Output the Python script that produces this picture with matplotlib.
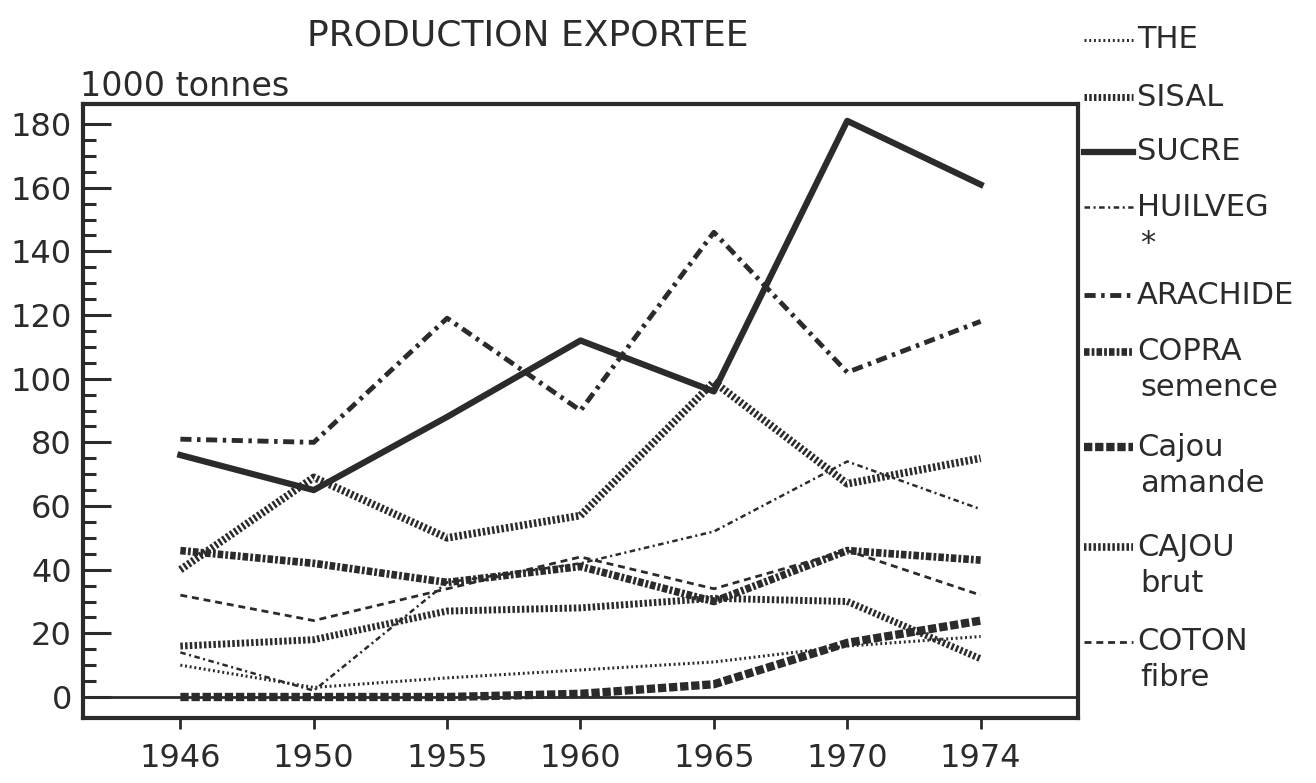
import matplotlib
matplotlib.use('Agg')
import matplotlib.pyplot as plt
from matplotlib.ticker import MultipleLocator, FixedLocator

plt.rcParams['font.family'] = ['DejaVu Sans']
plt.rcParams['lines.scale_dashes'] = False

INK = '#2b2b2b'

years = ['1946', '1950', '1955', '1960', '1965', '1970', '1974']

# exported production, 1000 tonnes
the = [10, 3, 6, 8.5, 11, 16, 19]
sisal = [16, 18, 27, 28, 31, 30, 12]
sucre = [76, 65, 88, 112, 96, 181, 161]
huilveg = [14, 2, 36, 42, 52, 74, 59]
arachide = [81, 80, 119, 90, 146, 102, 118]
copra = [46, 42, 36, 41, 30, 46, 43]
cajou_amande = [0, 0, 0, 1, 4, 17, 24]
cajou_brut = [40, 69, 50, 57, 99, 67, 75]
coton = [32, 24, 34, 44, 34, 46, 32]

labels = [['THE'], ['SISAL'], ['SUCRE'], ['HUILVEG', '*'], ['ARACHIDE'],
          ['COPRA', 'semence'], ['Cajou', 'amande'], ['CAJOU', 'brut'],
          ['COTON', 'fibre']]
series = [the, sisal, sucre, huilveg, arachide, copra, cajou_amande,
          cajou_brut, coton]
# (linewidth, dash pattern) -- None means solid
styles = [(2.2, (1.4, 2.0)),
          (5.0, (1.8, 1.6)),
          (4.5, None),
          (1.8, (4, 2.5, 1.5, 2.5)),
          (3.5, (8, 4, 2.5, 4)),
          (5.5, (4, 1.5, 2, 1.5)),
          (6.0, (6, 2)),
          (5.5, (1.8, 1.6)),
          (2.0, (5, 3.5))]

W, H = 1316, 783
fig = plt.figure(figsize=(W / 100, H / 100), dpi=100)
ax = fig.add_axes([83 / W, 1 - 718 / H, (1078 - 83) / W, (718 - 104) / H])

x = list(range(len(years)))
for vals, (lw, dash) in zip(series, styles):
    line, = ax.plot(x, vals, color=INK, lw=lw)
    if dash is not None:
        line.set_dashes(dash)

ax.axhline(0, color=INK, lw=2)

ax.set_xlim(-0.73, 6.73)
ax.set_ylim(-6.6, 186.3)
ax.set_xticks(x)
ax.set_xticklabels(years)
ax.yaxis.set_major_locator(MultipleLocator(20))
ax.yaxis.set_minor_locator(FixedLocator(range(0, 181, 5)))
ax.tick_params(axis='x', direction='out', length=8, width=2, pad=10,
               labelsize=23, colors=INK)
ax.tick_params(axis='y', which='major', direction='in', length=20, width=2.2,
               labelsize=23, pad=8, colors=INK)
ax.tick_params(axis='y', which='minor', direction='in', length=9, width=2.2,
               colors=INK)
for sp in ax.spines.values():
    sp.set_linewidth(3)
    sp.set_color(INK)

fig.text(528 / W, 1 - 35 / H, 'PRODUCTION EXPORTEE', ha='center', va='center',
         fontsize=26, color=INK)
fig.text(80 / W, 1 - 86 / H, '1000 tonnes', ha='left', va='center',
         fontsize=24, color=INK)

# legend on the right, drawn by hand so the sample sits on the first text line
rows_y = [40, 97, 152, 207, 295, 352, 447, 547, 642]
for lab, (lw, dash), yp in zip(labels, styles, rows_y):
    yf = 1 - yp / H
    ln, = ax.plot([1084 / W, 1133 / W], [yf, yf], color=INK, lw=lw,
                  transform=fig.transFigure, clip_on=False)
    if dash is not None:
        ln.set_dashes(dash)
    fig.text(1137 / W, yf, lab[0], ha='left', va='center', fontsize=22,
             color=INK)
    if len(lab) > 1:
        fig.text(1140 / W, yf - 36 / H, lab[1], ha='left', va='center',
                 fontsize=22, color=INK)

fig.savefig('out.png', dpi=100)
